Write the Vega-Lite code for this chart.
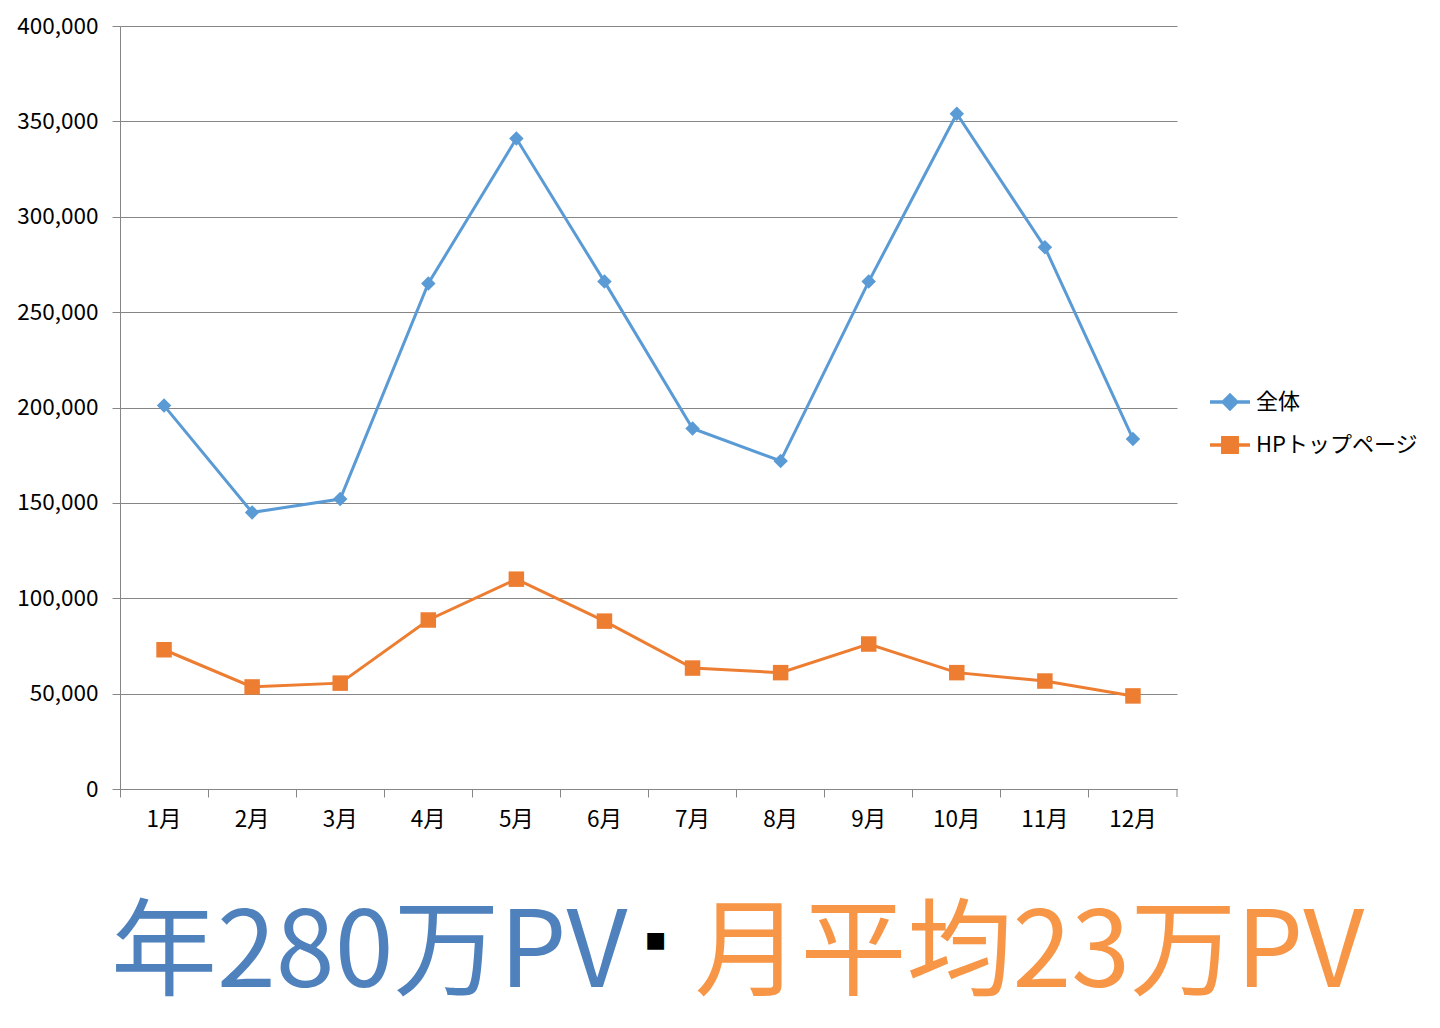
{
  "$schema": "https://vega.github.io/schema/vega-lite/v6.json",
  "width": 1057,
  "height": 763,
  "autosize": "none",
  "padding": {"left": 120, "top": 26, "right": 263, "bottom": 239},
  "background": "white",
  "data": {
    "values": [
      {"month": "1月", "series": "全体", "value": 201000},
      {"month": "2月", "series": "全体", "value": 145000},
      {"month": "3月", "series": "全体", "value": 152000},
      {"month": "4月", "series": "全体", "value": 265000},
      {"month": "5月", "series": "全体", "value": 341000},
      {"month": "6月", "series": "全体", "value": 266000},
      {"month": "7月", "series": "全体", "value": 189000},
      {"month": "8月", "series": "全体", "value": 172000},
      {"month": "9月", "series": "全体", "value": 266000},
      {"month": "10月", "series": "全体", "value": 354000},
      {"month": "11月", "series": "全体", "value": 284000},
      {"month": "12月", "series": "全体", "value": 183500},
      {"month": "1月", "series": "HPトップページ", "value": 73000},
      {"month": "2月", "series": "HPトップページ", "value": 53500},
      {"month": "3月", "series": "HPトップページ", "value": 55500},
      {"month": "4月", "series": "HPトップページ", "value": 88600},
      {"month": "5月", "series": "HPトップページ", "value": 110000},
      {"month": "6月", "series": "HPトップページ", "value": 88000},
      {"month": "7月", "series": "HPトップページ", "value": 63400},
      {"month": "8月", "series": "HPトップページ", "value": 61000},
      {"month": "9月", "series": "HPトップページ", "value": 76000},
      {"month": "10月", "series": "HPトップページ", "value": 61000},
      {"month": "11月", "series": "HPトップページ", "value": 56600},
      {"month": "12月", "series": "HPトップページ", "value": 48800}
    ]
  },
  "layer": [
    {
      "encoding": {
        "x": {
          "field": "month",
          "type": "ordinal",
          "sort": ["1月", "2月", "3月", "4月", "5月", "6月", "7月", "8月", "9月", "10月", "11月", "12月"],
          "scale": {"type": "band", "paddingInner": 0, "paddingOuter": 0},
          "axis": {
            "title": null,
            "labelAngle": 0,
            "bandPosition": 0,
            "labelFont": "Noto Sans CJK JP",
            "labelFontSize": 22.5,
            "labelColor": "#000000",
            "labelPadding": 11,
            "tickSize": 8,
            "tickColor": "#868686",
            "domainColor": "#868686",
            "grid": false
          }
        },
        "y": {
          "field": "value",
          "type": "quantitative",
          "scale": {"domain": [0, 400000], "nice": false},
          "axis": {
            "title": null,
            "values": [0, 50000, 100000, 150000, 200000, 250000, 300000, 350000, 400000],
            "format": ",d",
            "labelFont": "Noto Sans CJK JP",
            "labelFontSize": 22.5,
            "labelColor": "#000000",
            "labelPadding": 14,
            "tickSize": 8,
            "tickColor": "#868686",
            "domainColor": "#868686",
            "gridColor": "#868686",
            "gridWidth": 1
          }
        },
        "color": {
          "field": "series",
          "type": "nominal",
          "scale": {"domain": ["全体", "HPトップページ"], "range": ["#5b9bd5", "#ed7d31"]},
          "legend": {
            "title": null,
            "orient": "none",
            "legendX": 1088,
            "legendY": 354,
            "labelFont": "Noto Sans CJK JP",
            "labelFontSize": 22,
            "labelColor": "#000000",
            "labelLimit": 300,
            "labelOffset": 4,
            "symbolSize": 1600,
            "rowPadding": 7,
            "encode": {
              "symbols": {
                "update": {
                  "shape": {"signal": "datum.value === '全体' ? 'M-1,0L1,0M0,-0.34L0.34,0L0,0.34L-0.34,0Z' : 'M-1,0L1,0M-0.36,-0.36L0.36,-0.36L0.36,0.36L-0.36,0.36Z'"},
                  "fill": {"signal": "datum.value === '全体' ? '#5b9bd5' : '#ed7d31'"},
                  "stroke": {"signal": "datum.value === '全体' ? '#5b9bd5' : '#ed7d31'"},
                  "strokeWidth": {"value": 3.5},
                  "opacity": {"value": 1}
                }
              }
            }
          }
        }
      },
      "layer": [
        {"mark": {"type": "line", "strokeWidth": 3}},
        {
          "transform": [{"filter": "datum.series === '全体'"}],
          "mark": {"type": "point", "shape": "diamond", "size": 210, "filled": true, "opacity": 1}
        },
        {
          "transform": [{"filter": "datum.series === 'HPトップページ'"}],
          "mark": {"type": "point", "shape": "square", "size": 240, "filled": true, "opacity": 1}
        }
      ]
    },
    {
      "data": {"values": [{"edge": "12月"}]},
      "mark": {"type": "rule", "color": "#868686", "strokeWidth": 1},
      "encoding": {
        "x": {"datum": "12月", "bandPosition": 1},
        "y": {"datum": 0},
        "y2": {"datum": -4200}
      }
    },
    {
      "data": {"values": [{"label": "年280万PV"}]},
      "mark": {"type": "text", "align": "right", "baseline": "alphabetic", "dx": -65, "font": "Noto Sans CJK JP", "fontSize": 106, "fill": "#4f81bd"},
      "encoding": {
        "x": {"datum": "7月"},
        "y": {"datum": -104000},
        "text": {"field": "label"}
      }
    },
    {
      "data": {"values": [{"label": "■"}]},
      "mark": {"type": "text", "align": "center", "baseline": "middle", "dx": -37, "font": "DejaVu Sans", "fontSize": 22, "fill": "#000000"},
      "encoding": {
        "x": {"datum": "7月"},
        "y": {"datum": -79000},
        "text": {"field": "label"}
      }
    },
    {
      "data": {"values": [{"label": "月平均23万PV"}]},
      "mark": {"type": "text", "align": "left", "baseline": "alphabetic", "dx": 2, "font": "Noto Sans CJK JP", "fontSize": 106, "fill": "#f79646"},
      "encoding": {
        "x": {"datum": "7月"},
        "y": {"datum": -104000},
        "text": {"field": "label"}
      }
    }
  ],
  "config": {
    "view": {"stroke": null}
  }
}
